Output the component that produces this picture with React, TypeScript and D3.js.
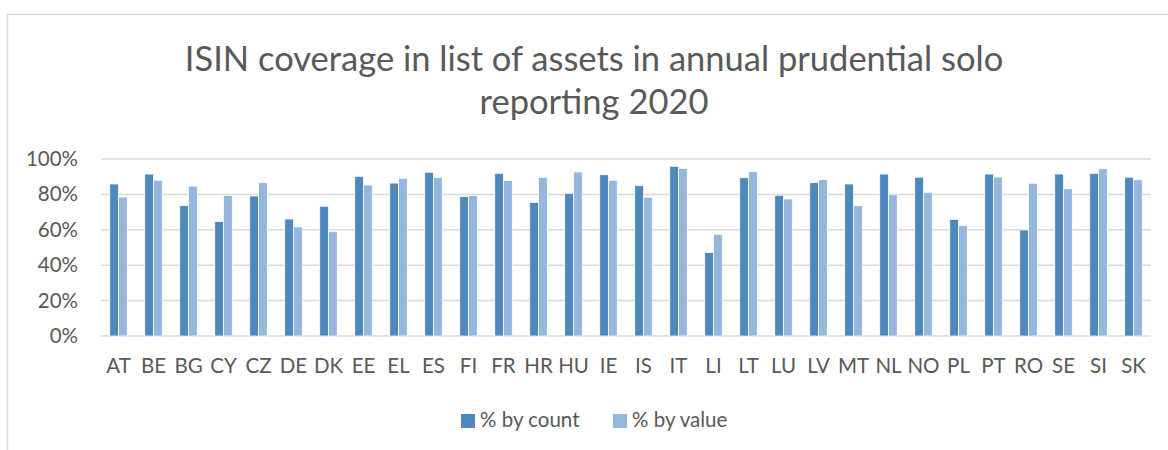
import React from "react";
import * as d3 from "d3";

const categories = ["AT","BE","BG","CY","CZ","DE","DK","EE","EL","ES","FI","FR","HR","HU","IE","IS","IT","LI","LT","LU","LV","MT","NL","NO","PL","PT","RO","SE","SI","SK"];
const byCount = [0.859,0.915,0.736,0.646,0.791,0.661,0.733,0.902,0.864,0.925,0.787,0.919,0.755,0.806,0.911,0.849,0.959,0.471,0.894,0.795,0.866,0.859,0.915,0.897,0.659,0.915,0.599,0.915,0.919,0.897];
const byValue = [0.785,0.880,0.847,0.793,0.866,0.616,0.589,0.853,0.891,0.896,0.793,0.878,0.896,0.927,0.880,0.784,0.947,0.574,0.928,0.774,0.883,0.736,0.798,0.812,0.623,0.898,0.863,0.832,0.945,0.883];
const yTicks = [0, 0.2, 0.4, 0.6, 0.8, 1.0];
const seriesNames = ["% by count", "% by value"];
const titleLines = ["ISIN coverage in list of assets in annual prudential solo", "reporting 2020"];

const COLORS = ["#4F88BD", "#95B7DE"];
const TEXT = "#595959";
const GRID = "#D9D9D9";
const FONT = "Lato, 'Open Sans', sans-serif";

export default function App() {
  const left = 101, right = 1151, top = 159, bottom = 336;
  const x0 = d3.scaleBand<string>().domain(categories).range([left, right]).paddingInner(0.5).paddingOuter(0.25);
  const x1 = d3.scaleBand<number>().domain([0, 1]).range([0, x0.bandwidth()]);
  const y = d3.scaleLinear().domain([0, 1]).range([bottom, top]);
  const fmt = d3.format(".0%");
  const series = [byCount, byValue];

  return (
    <svg width={1168} height={450} style={{ position: "absolute", left: 0, top: 0, fontFamily: FONT }}>
      <rect x={0} y={0} width={1168} height={450} fill="#fff" />
      <rect x={7.5} y={14.5} width={1300} height={600} fill="#fff" stroke={GRID} strokeWidth={1.5} />
      {titleLines.map((t, i) => (
        <text key={t} x={594} y={71 + i * 43} textAnchor="middle" fontSize={34.5} fill={TEXT}>{t}</text>
      ))}
      {yTicks.map((t) => (
        <g key={t}>
          <line x1={left} x2={right} y1={y(t)} y2={y(t)} stroke={GRID} strokeWidth={1.5} />
          <text x={78} y={y(t) + 7} textAnchor="end" fontSize={20.5} fill={TEXT}>{fmt(t)}</text>
        </g>
      ))}
      {categories.map((c, i) => (
        <g key={c}>
          {series.map((s, j) => (
            <rect key={j} x={(x0(c) as number) + (x1(j) as number)} y={y(s[i])} width={x1.bandwidth()} height={y(0) - y(s[i])}
              fill={COLORS[j]} stroke="#fff" strokeWidth={0.75} />
          ))}
          <text x={(x0(c) as number) + x0.bandwidth() / 2} y={373} textAnchor="middle" fontSize={20.5} fill={TEXT}>{c}</text>
        </g>
      ))}
      {seriesNames.map((n, j) => {
        const lx = j === 0 ? 461 : 613;
        return (
          <g key={n}>
            <rect x={lx} y={414} width={14} height={14} fill={COLORS[j]} />
            <text x={lx + 19} y={427} fontSize={20.5} fill={TEXT}>{n}</text>
          </g>
        );
      })}
    </svg>
  );
}
